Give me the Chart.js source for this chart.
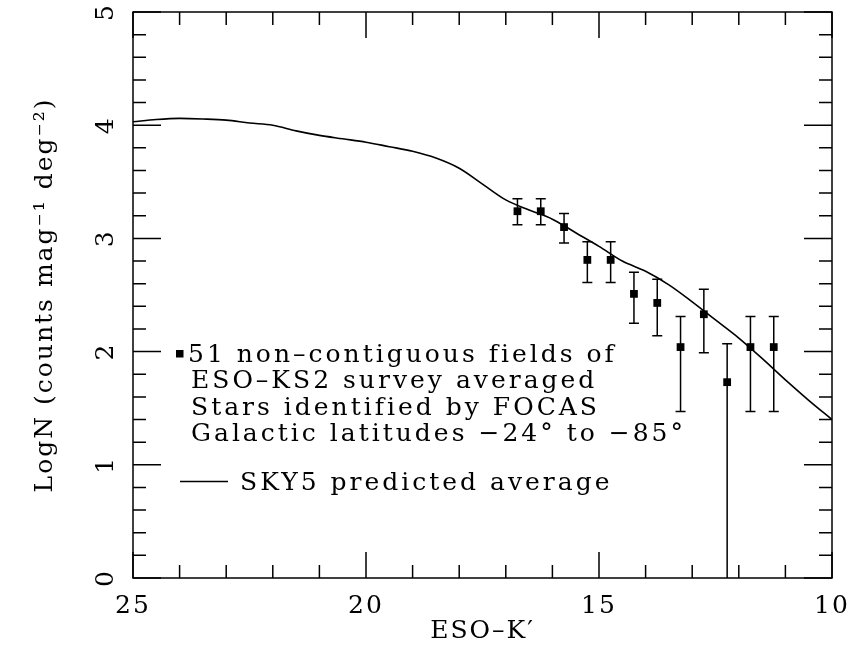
<!DOCTYPE html>
<html>
<head>
<meta charset="utf-8">
<script src="https://cdn.jsdelivr.net/npm/chart.js@4/dist/chart.umd.min.js"></script>
<style>
  html, body { margin: 0; padding: 0; background: #fff; }
</style>
</head>
<body>
<canvas id="countsChart" width="851" height="649"></canvas>
<script>
// SKY5 model curve
let modelMag = [25, 24.5, 24, 23.5, 23, 22.5, 22, 21.5, 21, 20.5, 20, 19.5, 19, 18.5, 18, 17.5,
  17, 16.5, 16, 15.5, 15, 14.5, 14, 13.5, 13, 12.5, 12, 11.5, 11, 10.5, 10];
let modelLogN = [4.03, 4.05, 4.06, 4.055, 4.045, 4.02, 4.0, 3.95, 3.91, 3.88, 3.85, 3.81, 3.77, 3.71, 3.62, 3.48,
  3.34, 3.25, 3.17, 3.05, 2.93, 2.8, 2.71, 2.59, 2.44, 2.28, 2.12, 1.94, 1.75, 1.57, 1.4];

// averaged star counts with error bars
let obsMag = [16.75, 16.25, 15.75, 15.25, 14.75, 14.25, 13.75, 13.25, 12.75, 12.25, 11.75, 11.25];
let obsLogN = [3.24, 3.24, 3.1, 2.81, 2.81, 2.51, 2.43, 2.04, 2.33, 1.73, 2.04, 2.04];
let obsHi = [3.35, 3.35, 3.22, 2.97, 2.97, 2.7, 2.64, 2.31, 2.55, 2.07, 2.31, 2.31];
let obsLo = [3.12, 3.12, 2.96, 2.61, 2.61, 2.25, 2.14, 1.47, 1.99, 0, 1.47, 1.47];

let obsLabel = ["51 non\u2013contiguous fields of", "ESO\u2013KS2 survey averaged",
  "Stars identified by FOCAS", "Galactic latitudes \u221224\u00b0 to \u221285\u00b0"];
let modelLabel = "SKY5 predicted average";

let serif = "'DejaVu Serif', 'Liberation Serif', serif";

function isInt(v) {
  return Math.abs(v - Math.round(v)) < 1e-6;
}

// inward ticks on all four sides plus the box
const frameTicks = {
  id: "frameTicks",
  beforeDraw: (chart) => {
    chart.ctx.letterSpacing = "2px";
  },
  afterDraw: (chart) => {
    const { ctx, chartArea: a } = chart;
    const xs = chart.scales.x;
    const ys = chart.scales.y;
    ctx.save();
    ctx.strokeStyle = "#000";
    ctx.lineWidth = 1.5;
    ctx.strokeRect(a.left, a.top, a.right - a.left, a.bottom - a.top);
    ctx.beginPath();
    xs.ticks.forEach((t) => {
      const px = xs.getPixelForValue(t.value);
      const len = t.value % 5 === 0 ? 26 : 13;
      ctx.moveTo(px, a.bottom);
      ctx.lineTo(px, a.bottom - len);
      ctx.moveTo(px, a.top);
      ctx.lineTo(px, a.top + len);
    });
    ys.ticks.forEach((t) => {
      const py = ys.getPixelForValue(t.value);
      const len = isInt(t.value) ? 28 : 13;
      ctx.moveTo(a.left, py);
      ctx.lineTo(a.left + len, py);
      ctx.moveTo(a.right, py);
      ctx.lineTo(a.right - len, py);
    });
    ctx.stroke();
    ctx.restore();
  },
};

const errorBars = {
  id: "errorBars",
  afterDatasetsDraw: (chart) => {
    const { ctx } = chart;
    const xs = chart.scales.x;
    const ys = chart.scales.y;
    ctx.save();
    ctx.strokeStyle = "#000";
    ctx.lineWidth = 1.5;
    ctx.beginPath();
    obsMag.forEach((m, i) => {
      const px = xs.getPixelForValue(m);
      const yHi = ys.getPixelForValue(obsHi[i]);
      const yLo = ys.getPixelForValue(obsLo[i]);
      ctx.moveTo(px, yHi);
      ctx.lineTo(px, yLo);
      ctx.moveTo(px - 5, yHi);
      ctx.lineTo(px + 5, yHi);
      if (obsLo[i] > ys.min) {
        ctx.moveTo(px - 5, yLo);
        ctx.lineTo(px + 5, yLo);
      }
    });
    ctx.stroke();
    ctx.restore();
  },
};

const textLegend = {
  id: "textLegend",
  afterDraw: (chart) => {
    const { ctx, chartArea: a } = chart;
    ctx.save();
    ctx.fillStyle = "#000";
    ctx.strokeStyle = "#000";
    ctx.font = "25px " + serif;
    ctx.letterSpacing = "3px";
    ctx.textBaseline = "alphabetic";
    ctx.textAlign = "left";
    const x0 = a.left + 55;
    const y0 = 361.5;
    ctx.fillRect(a.left + 43, 350, 7.5, 7.5);
    obsLabel.forEach((s, i) => {
      ctx.fillText(s, x0 + (i === 0 ? 0 : 3), y0 + i * 26.6);
    });
    ctx.lineWidth = 1.5;
    ctx.beginPath();
    ctx.moveTo(a.left + 47, 481.5);
    ctx.lineTo(a.left + 95, 481.5);
    ctx.stroke();
    ctx.fillText(modelLabel, a.left + 107, 490);
    ctx.restore();
    ctx.letterSpacing = "0px";
  },
};

let ctx = document.getElementById("countsChart").getContext("2d");

let countsChart = new Chart(ctx, {
  type: "scatter",
  data: {
    datasets: [
      {
        label: "SKY5",
        data: modelMag.map((m, i) => ({ x: m, y: modelLogN[i] })),
        showLine: true,
        cubicInterpolationMode: "monotone",
        borderColor: "#000",
        borderWidth: 1.6,
        pointRadius: 0,
        fill: false,
      },
      {
        label: "ESO-KS2",
        data: obsMag.map((m, i) => ({ x: m, y: obsLogN[i] })),
        pointStyle: "rect",
        pointRadius: 5.5,
        backgroundColor: "#000",
        borderColor: "#000",
        borderWidth: 0,
      },
    ],
  },
  options: {
    responsive: false,
    animation: false,
    layout: {
      padding: { top: 12, right: 19, bottom: 0, left: 0 },
    },
    plugins: {
      legend: { display: false },
      tooltip: { enabled: false },
    },
    scales: {
      x: {
        type: "linear",
        reverse: true,
        min: 10,
        max: 25,
        grid: { display: false, drawTicks: false },
        border: { display: false },
        ticks: {
          stepSize: 1,
          autoSkip: false,
          maxRotation: 0,
          padding: 16,
          color: "#000",
          font: { family: serif, size: 25, lineHeight: 1 },
          callback: (v) => (v % 5 === 0 ? String(v) : ""),
        },
        title: {
          display: true,
          text: "ESO\u2013K\u2032",
          color: "#000",
          font: { family: serif, size: 25, lineHeight: 1 },
          padding: { top: 0, bottom: 5 },
        },
        afterFit: (s) => {
          s.height = 71;
          s.paddingLeft = 0;
          s.paddingRight = 0;
        },
      },
      y: {
        type: "linear",
        min: 0,
        max: 5,
        grid: { display: false, drawTicks: false },
        border: { display: false },
        ticks: {
          stepSize: 0.2,
          autoSkip: false,
          minRotation: 90,
          maxRotation: 90,
          crossAlign: "center",
          padding: 19,
          color: "#000",
          font: { family: serif, size: 25, lineHeight: 1 },
          callback: (v) => (isInt(v) ? String(Math.round(v)) : ""),
        },
        title: {
          display: true,
          text: "LogN (counts mag\u207b\u00b9 deg\u207b\u00b2)",
          color: "#000",
          font: { family: serif, size: 25, lineHeight: 1 },
          padding: { top: 33, bottom: 0 },
        },
        afterFit: (s) => {
          s.width = 133;
          s.paddingTop = 0;
          s.paddingBottom = 0;
        },
      },
    },
  },
  plugins: [frameTicks, errorBars, textLegend],
});
</script>
</body>
</html>
